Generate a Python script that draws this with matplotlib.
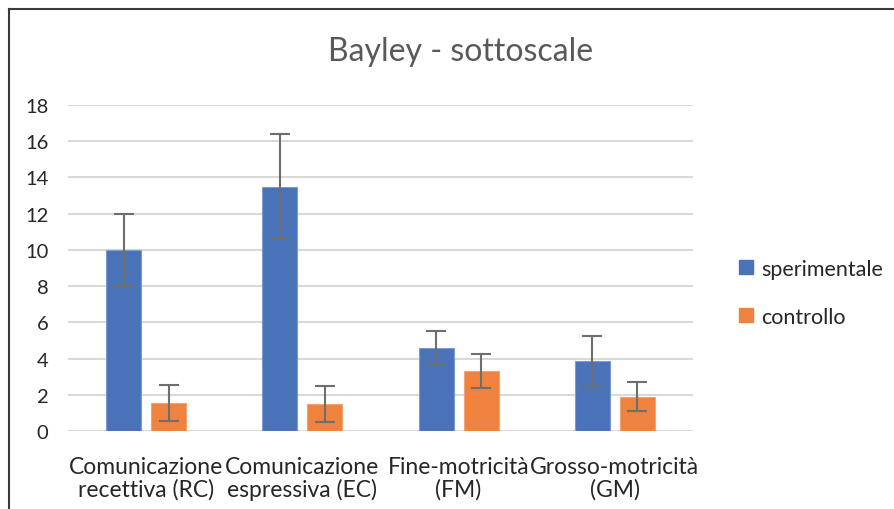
import matplotlib.pyplot as plt
import numpy as np
from matplotlib.lines import Line2D

categories = ["Comunicazione\nrecettiva (RC)", "Comunicazione\nespressiva (EC)",
              "Fine-motricità\n(FM)", "Grosso-motricità\n(GM)"]
sperimentale = [10.0, 13.5, 4.6, 3.85]
sperimentale_err = [2.0, 2.9, 0.9, 1.4]
controllo = [1.55, 1.5, 3.3, 1.9]
controllo_err = [1.0, 1.0, 0.95, 0.8]
yticks = [0, 2, 4, 6, 8, 10, 12, 14, 16, 18]

plt.rcParams['font.family'] = ['Lato', 'DejaVu Sans']

fig = plt.figure(figsize=(8.94, 5.10), dpi=100)
ax = fig.add_axes([68 / 894, 1 - 432 / 510, 625 / 894, 326 / 510])

x = np.arange(len(categories))
w = 0.224
off = 0.144
err_kw = dict(ecolor="#6e6e6e", elinewidth=1.5, capsize=7, capthick=1.5)
ax.bar(x - off, sperimentale, w, yerr=sperimentale_err, color="#4a72b8",
       edgecolor="#7d9bd0", linewidth=0.8, error_kw=err_kw, label="sperimentale", zorder=2)
ax.bar(x + off, controllo, w, yerr=controllo_err, color="#f08240",
       edgecolor="#f4a373", linewidth=0.8, error_kw=err_kw, label="controllo", zorder=2)

ax.set_xlim(-0.5, len(categories) - 0.5)
ax.set_ylim(0, 18)
ax.set_yticks(yticks)
ax.set_xticks(x)
ax.set_xticklabels(categories, fontsize=16.5, color="#262626", linespacing=1.05)
ax.tick_params(axis="y", labelsize=14.5, labelcolor="#262626", length=0, pad=14)
ax.tick_params(axis="x", length=0, pad=18)
ax.yaxis.grid(True, color="#d9d9d9", linewidth=1.5, zorder=0)
ax.set_axisbelow(True)
for s in ax.spines.values():
    s.set_visible(False)

fig.text(461 / 894, 1 - 52 / 510, "Bayley - sottoscale", ha="center", va="center",
         fontsize=23, color="#595959")

handles = [Line2D([], [], marker="s", linestyle="none", markersize=10, color="#4a72b8"),
           Line2D([], [], marker="s", linestyle="none", markersize=10, color="#f08240")]
fig.legend(handles, ["sperimentale", "controllo"], loc="center left",
           bbox_to_anchor=(716 / 894, 1 - 294 / 510), frameon=False, fontsize=15.5,
           labelspacing=1.3, handletextpad=0.2, handlelength=1.0, labelcolor="#262626")

# outer frame (only top and left visible, as in the cropped reference)
fig.add_artist(Line2D([9 / 894, 9 / 894], [0, 1 - 10 / 510], transform=fig.transFigure,
                      color="#3a3a3a", linewidth=1.5))
fig.add_artist(Line2D([9 / 894, 1], [1 - 10 / 510, 1 - 10 / 510], transform=fig.transFigure,
                      color="#3a3a3a", linewidth=1.5))

fig.savefig("out.png", dpi=100)
